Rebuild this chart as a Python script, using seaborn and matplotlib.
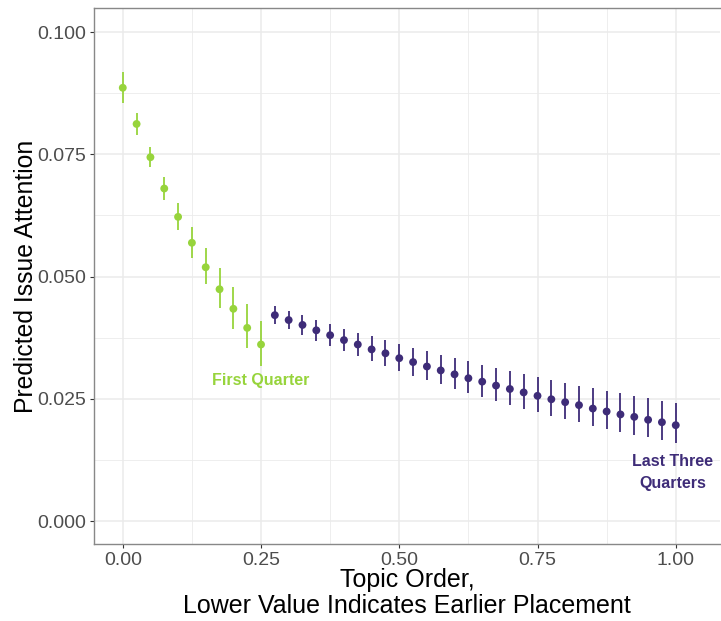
import numpy as np
import pandas as pd
import matplotlib
matplotlib.use("Agg")
import matplotlib.pyplot as plt
import seaborn as sns

# Topic order positions (0 to 1 in steps of 0.025)
topic_order = [round(i * 0.025, 3) for i in range(41)]

# Predicted issue attention with 95% interval bounds
attention = [0.0886, 0.0812, 0.0744, 0.0680, 0.0622, 0.0569, 0.0519, 0.0474,
             0.0434, 0.0395, 0.0361,
             0.0421, 0.0411, 0.0401, 0.0390, 0.0380, 0.0370, 0.0361, 0.0351,
             0.0343, 0.0333, 0.0325, 0.0316, 0.0308, 0.0300, 0.0292, 0.0285,
             0.0277, 0.0270, 0.0263, 0.0256, 0.0249, 0.0243, 0.0237, 0.0230,
             0.0224, 0.0218, 0.0213, 0.0207, 0.0202, 0.0196]
lower = [0.0854, 0.0789, 0.0723, 0.0657, 0.0595, 0.0538, 0.0485, 0.0436,
         0.0393, 0.0354, 0.0318,
         0.0403, 0.0392, 0.0380, 0.0369, 0.0358, 0.0348, 0.0337, 0.0327,
         0.0316, 0.0307, 0.0297, 0.0288, 0.0280, 0.0271, 0.0262, 0.0254,
         0.0246, 0.0238, 0.0230, 0.0223, 0.0215, 0.0209, 0.0202, 0.0195,
         0.0188, 0.0183, 0.0176, 0.0171, 0.0166, 0.0160]
upper = [0.0918, 0.0835, 0.0764, 0.0703, 0.0650, 0.0602, 0.0558, 0.0517,
         0.0478, 0.0443, 0.0410,
         0.0440, 0.0429, 0.0421, 0.0411, 0.0403, 0.0393, 0.0385, 0.0378,
         0.0370, 0.0362, 0.0354, 0.0347, 0.0339, 0.0333, 0.0327, 0.0320,
         0.0313, 0.0307, 0.0301, 0.0294, 0.0288, 0.0283, 0.0277, 0.0272,
         0.0266, 0.0262, 0.0256, 0.0252, 0.0246, 0.0242]

group_names = ["First Quarter", "Last Three Quarters"]
group = [group_names[0] if x <= 0.25 else group_names[1] for x in topic_order]

x_ticks = [0.00, 0.25, 0.50, 0.75, 1.00]
x_tick_labels = ["0.00", "0.25", "0.50", "0.75", "1.00"]
y_ticks = [0.000, 0.025, 0.050, 0.075, 0.100]
y_tick_labels = ["0.000", "0.025", "0.050", "0.075", "0.100"]

palette = {group_names[0]: "#97D43C", group_names[1]: "#3E2C78"}

df = pd.DataFrame({"order": topic_order, "attention": attention,
                   "lower": lower, "upper": upper, "group": group})

sns.set_theme(style="white")
plt.rcParams["font.family"] = ["Liberation Sans", "DejaVu Sans"]

fig = plt.figure(figsize=(7.21, 6.21), dpi=100)
ax = fig.add_axes([0.1304, 0.124, 0.8682, 0.863])

# minor and major grid
for v in [-0.125, 0.125, 0.375, 0.625, 0.875, 1.125]:
    ax.axvline(v, color="#EBEBEB", lw=0.6, zorder=0)
for v in x_ticks:
    ax.axvline(v, color="#EBEBEB", lw=1.1, zorder=0)
for v in [0.0125, 0.0375, 0.0625, 0.0875]:
    ax.axhline(v, color="#EBEBEB", lw=0.6, zorder=0)
for v in y_ticks:
    ax.axhline(v, color="#EBEBEB", lw=1.1, zorder=0)

for g in group_names:
    sub = df[df["group"] == g]
    ax.vlines(sub["order"], sub["lower"], sub["upper"], color=palette[g],
              lw=1.3, zorder=2)

sns.scatterplot(data=df, x="order", y="attention", hue="group",
                palette=palette, s=32, linewidth=0, legend=False, ax=ax,
                zorder=3)

ax.text(0.25, 0.0288, "First Quarter", color=palette[group_names[0]],
        fontsize=11.5, fontweight="bold", ha="center", va="center")
ax.text(0.995, 0.0100, "Last Three\nQuarters", color=palette[group_names[1]],
        fontsize=11.5, fontweight="bold", ha="center", va="center",
        linespacing=1.6)

ax.set_xlim(-0.052, 1.08)
ax.set_ylim(-0.0047, 0.1049)
ax.set_xticks(x_ticks)
ax.set_xticklabels(x_tick_labels)
ax.set_yticks(y_ticks)
ax.set_yticklabels(y_tick_labels)
ax.tick_params(axis="both", which="major", labelsize=14, labelcolor="#4D4D4D",
               color="#333333", length=3, width=0.8, direction="out",
               bottom=True, left=True, pad=3)
ax.set_xlabel("Topic Order,\nLower Value Indicates Earlier Placement",
              fontsize=18, color="black", labelpad=-1, linespacing=1.1)
ax.set_ylabel("Predicted Issue Attention", fontsize=17.8, color="black",
              labelpad=-1)

for side, sp in ax.spines.items():
    sp.set_color("#888888")
    sp.set_linewidth(1.0)
ax.spines["right"].set_visible(False)

fig.savefig("out.png", dpi=100)
